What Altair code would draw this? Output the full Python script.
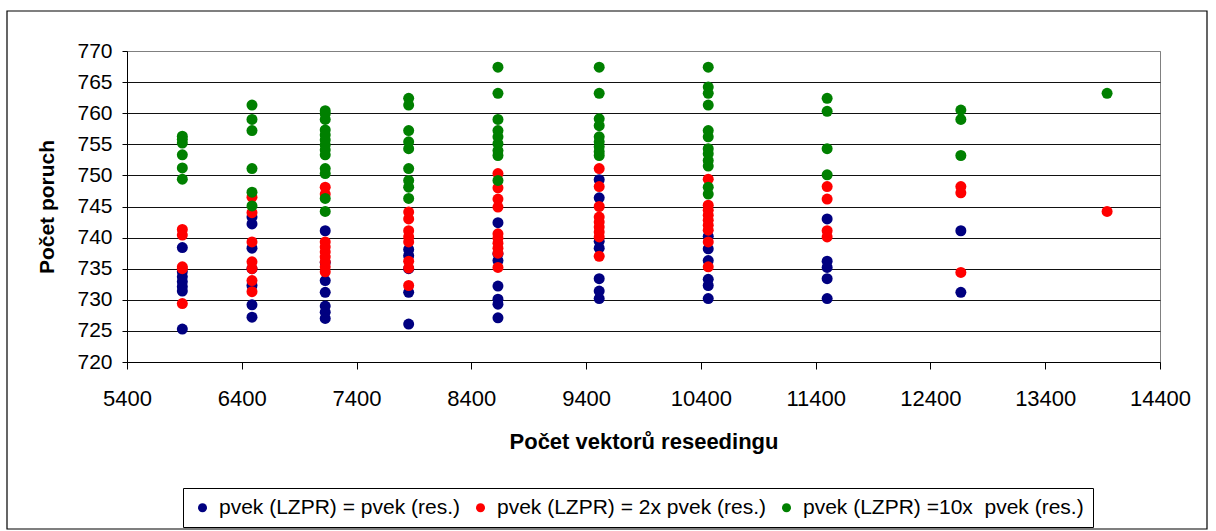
import altair as alt
import pandas as pd

# Number of reseeding vectors (x) at which each batch of runs was measured
x_values = [5882, 6489, 7127, 7854, 8632, 9514, 10464, 11500, 12665, 13939]

series_names = [
    "pvek (LZPR) = pvek (res.)",
    "pvek (LZPR) = 2x pvek (res.)",
    "pvek (LZPR) =10x\u00a0 pvek (res.)",
]
series_colors = ["#000080", "#FF0000", "#008000"]

# Fault counts per x position, one list per x value
blue_y = [
    [738.4, 734.5, 733.7, 732.9, 732.1, 731.4, 725.3],
    [743.3, 742.2, 738.3, 735.0, 732.3, 729.2, 727.2],
    [741.1, 736.0, 733.1, 731.2, 729.0, 728.0, 727.0],
    [738.1, 737.1, 735.0, 731.2, 726.1],
    [742.4, 737.4, 736.3, 732.2, 730.1, 729.3, 727.1],
    [749.3, 746.4, 739.4, 738.3, 733.4, 731.4, 730.2],
    [740.2, 738.2, 736.3, 733.3, 732.3, 730.2],
    [743.0, 736.2, 735.2, 733.4, 730.2],
    [741.1, 731.2],
    [],
]
red_y = [
    [741.3, 740.4, 735.3, 735.0, 729.4],
    [746.5, 744.0, 739.3, 736.1, 735.0, 733.1, 731.3],
    [748.1, 747.0, 739.3, 738.5, 737.7, 736.9, 736.1, 735.3, 734.5],
    [744.1, 743.0, 741.1, 740.1, 739.3, 736.2, 735.1, 732.3],
    [750.3, 748.0, 746.2, 744.9, 740.6, 739.9, 739.1, 738.3, 737.5, 735.2],
    [751.1, 748.2, 745.0, 743.3, 742.5, 741.7, 740.9, 740.1, 737.0],
    [749.4, 745.2, 744.4, 743.6, 742.8, 742.0, 741.2, 739.3, 735.3],
    [748.2, 746.2, 741.1, 740.1],
    [748.2, 747.2, 734.4],
    [744.2],
]
green_y = [
    [756.3, 755.8, 755.2, 753.3, 751.2, 749.4],
    [761.3, 759.0, 757.2, 751.1, 747.3, 745.1],
    [760.4, 759.9, 759.0, 757.3, 756.5, 755.7, 754.9, 754.1, 753.3, 751.1, 750.3, 746.3, 744.2],
    [762.4, 761.3, 757.2, 755.4, 754.3, 751.1, 749.2, 748.1, 746.3],
    [767.4, 763.2, 759.0, 757.2, 756.2, 755.1, 754.0, 753.2, 749.2],
    [767.4, 763.2, 759.1, 758.0, 756.2, 755.4, 754.6, 753.8, 753.2],
    [767.4, 764.2, 763.2, 761.3, 757.2, 756.2, 754.3, 753.5, 752.4, 751.5, 748.1, 747.0],
    [762.4, 760.3, 754.3, 750.1],
    [760.5, 759.0, 753.2],
    [763.2],
]

y_ticks = list(range(720, 771, 5))
x_ticks = list(range(5400, 14401, 1000))

rows = []
for name, columns in zip(series_names, [blue_y, red_y, green_y]):
    for x, ys in zip(x_values, columns):
        for y in ys:
            rows.append({"x": x, "y": y, "series": name})
df = pd.DataFrame(rows)

FONT = "Liberation Sans"

points = alt.Chart(df).mark_circle(size=121, opacity=1).encode(
    x=alt.X(
        "x:Q",
        scale=alt.Scale(domain=[5400, 14400], nice=False, zero=False),
        axis=alt.Axis(
            values=x_ticks,
            format="d",
            title="Počet vektorů reseedingu",
            titleFontSize=22,
            titleFontWeight="bold",
            titleFont=FONT,
            titleColor="black",
            titleY=79,
            titleBaseline="middle",
            labelFontSize=22,
            labelFont=FONT,
            labelColor="black",
            labelPadding=19,
            labelFlush=False,
            labelOverlap=False,
            tickSize=7,
            tickColor="black",
            domainColor="black",
            grid=False,
        ),
    ),
    y=alt.Y(
        "y:Q",
        scale=alt.Scale(domain=[720, 770], nice=False, zero=False),
        axis=alt.Axis(
            values=y_ticks,
            format="d",
            title="Počet poruch",
            titleFontSize=21,
            titleFontWeight="bold",
            titleFont=FONT,
            titleColor="black",
            titleX=-80,
            titleY=155.5,
            titleAngle=270,
            titleAlign="center",
            titleBaseline="middle",
            labelFontSize=21,
            labelFont=FONT,
            labelColor="black",
            labelPadding=10,
            labelFlush=False,
            labelOverlap=False,
            tickSize=5,
            tickColor="black",
            domainColor="black",
            grid=True,
            gridColor={"condition": {"test": "datum.value === 770", "value": "#808080"}, "value": "#111111"},
            gridOpacity=1,
        ),
    ),
    color=alt.Color(
        "series:N",
        scale=alt.Scale(domain=series_names, range=series_colors),
        legend=alt.Legend(
            title=None,
            orient="none",
            legendX=56,
            legendY=437,
            direction="horizontal",
            columns=3,
            labelFontSize=21,
            labelFont=FONT,
            labelColor="black",
            labelLimit=500,
            labelOffset=6,
            columnPadding=10,
            symbolType="circle",
            symbolSize=81,
            symbolStrokeWidth=0,
            symbolOpacity=1,
            strokeColor="black",
            fillColor="white",
            padding=9,
        ),
    ),
)

# Outer frame around the whole chart area
frame = alt.Chart(pd.DataFrame({"k": [0]})).mark_rect(
    filled=False, stroke="black", strokeWidth=1.2
).encode(
    x=alt.value(-120), x2=alt.value(1080), y=alt.value(-40), y2=alt.value(478)
)

chart = alt.layer(frame, points).properties(
    width=1033,
    height=311,
    padding={"left": 127, "top": 51, "right": 56, "bottom": 169},
    autosize=alt.AutoSizeParams(type="none"),
    background="white",
).configure_view(stroke="#808080", strokeWidth=1)

chart.save("out.html", embed_options={"renderer": "svg", "actions": False})
